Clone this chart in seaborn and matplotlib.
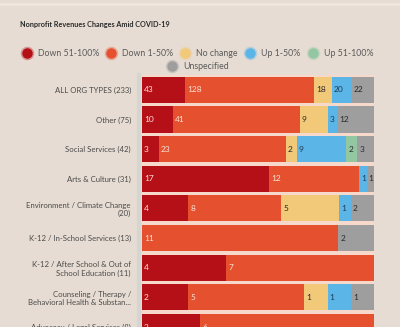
import matplotlib
matplotlib.use('Agg')
import matplotlib.pyplot as plt
import seaborn as sns
import numpy as np
import pandas as pd
from matplotlib.lines import Line2D
import matplotlib.colors as mcolors

categories = ["ALL ORG TYPES (233)", "Other (75)", "Social Services (42)", "Arts & Culture (31)",
              "Environment / Climate Change\n(20)", "K-12 / In-School Services (13)",
              "K-12 / After School & Out of\nSchool Education (11)",
              "Counseling / Therapy /\nBehavioral Health & Substan...",
              "Advocacy / Legal Services (8)"]
series = ["Down 51-100%", "Down 1-50%", "No change", "Up 1-50%", "Up 51-100%", "Unspecified"]
down_51_100 = [43, 10, 3, 17, 4, 0, 4, 2, 2]
down_1_50 = [128, 41, 23, 12, 8, 11, 7, 5, 6]
no_change = [18, 9, 2, 0, 5, 0, 0, 1, 0]
up_1_50 = [20, 3, 9, 1, 1, 0, 0, 1, 0]
up_51_100 = [0, 0, 2, 0, 0, 0, 0, 0, 0]
unspecified = [22, 12, 3, 1, 2, 2, 0, 1, 0]

colors = ["#b50f18", "#e5502e", "#f2c879", "#5bb5e6", "#93c7a2", "#9e9e9e"]
text_colors = ["#fde3d8", "#fde3d8", "#2a2a2a", "#1d3a55", "#2a2a2a", "#2a2a2a"]
bg = "#e6dcd3"

vals = np.array([down_51_100, down_1_50, no_change, up_1_50, up_51_100, unspecified], dtype=float)
totals = vals.sum(axis=0)
pct = vals / totals * 100
cum_end = np.cumsum(pct, axis=0)
cum_start = cum_end - pct

df = pd.DataFrame({"category": categories})
for k in range(len(series)):
    df[f"end{k}"] = cum_end[k]

sns.set_theme(style="white")
plt.rcParams['font.family'] = ['Lato', 'DejaVu Sans']

fig = plt.figure(figsize=(4.0, 3.27), dpi=100, facecolor=bg)
ax = fig.add_axes([142/400, 0, 232/400, 1 - 75/327])
ax.set_facecolor("#f6d9ca")

for k in reversed(range(len(series))):
    sns.barplot(data=df, x=f"end{k}", y="category", orient="h", color=colors[k],
                saturation=1, width=0.88, ax=ax, linewidth=0)

for i in range(len(categories)):
    for k in range(len(series)):
        v = vals[k, i]
        if v > 0:
            ax.text(cum_start[k, i] + 0.9, i, f"{int(v)}", va="center", ha="left",
                    fontsize=6, color=text_colors[k])

ax.set_xlim(0, 100)
ax.set_ylim(8.0, -0.5)
ax.set_xlabel("")
ax.set_ylabel("")
ax.set_xticks([])
ax.tick_params(axis="y", length=0, pad=6, labelsize=5.6, labelcolor="#4a4a4a")
for lab in ax.get_yticklabels():
    lab.set_linespacing(1.15)
for s in ["top", "right", "bottom"]:
    ax.spines[s].set_visible(False)
ax.spines["left"].set_color("#d6d6d0")
ax.spines["left"].set_linewidth(3)
ax.spines["left"].set_position(("outward", 2))

fig.text(20/400, 1 - 25/327, "Nonprofit Revenues Changes Amid COVID-19", fontsize=5.2,
         fontweight="bold", color="#2a2a2a", va="center", ha="left")
fig.add_artist(Line2D([0, 1], [1 - 4/327] * 2, transform=fig.transFigure, color="#eee6df", lw=2))

def handle(c):
    rgba = mcolors.to_rgba(c)
    halo = (rgba[0], rgba[1], rgba[2], 0.35)
    return Line2D([], [], marker="o", linestyle="", markersize=7.5, markerfacecolor=c,
                  markeredgecolor=halo, markeredgewidth=2.2)

h1 = [handle(colors[k]) for k in range(5)]
leg1 = fig.legend(h1, series[:5], loc="center", bbox_to_anchor=(0.494, 1 - 53.5/327), ncol=5,
                  frameon=False, fontsize=6.3, handletextpad=0.75, columnspacing=0.9,
                  handlelength=1.0, labelcolor="#5a5a5a", borderaxespad=0, borderpad=0)
leg2 = fig.legend([handle(colors[5])], [series[5]], loc="center", bbox_to_anchor=(0.495, 1 - 66.5/327),
                  frameon=False, fontsize=6.3, handletextpad=0.75, handlelength=1.0,
                  labelcolor="#5a5a5a", borderaxespad=0, borderpad=0)

fig.savefig("out.png", dpi=100, facecolor=bg)
